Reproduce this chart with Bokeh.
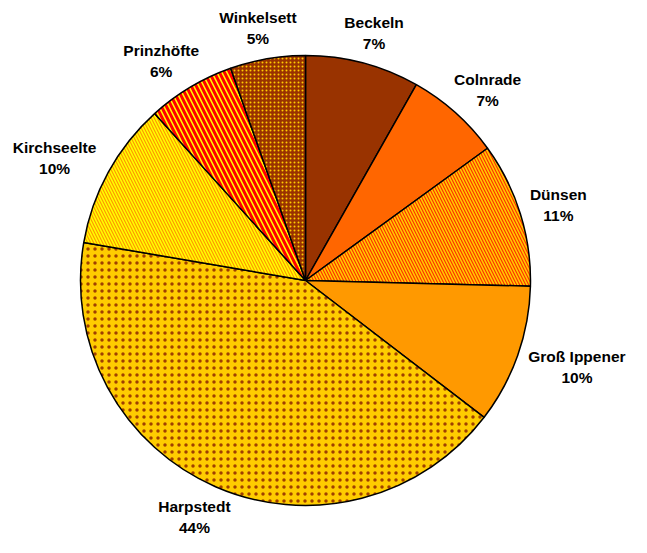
import math
from bokeh.plotting import figure
from bokeh.models import Range1d
from bokeh.embed import file_html
from bokeh.resources import INLINE
from bokeh.core.properties import value

# Data (clockwise from 12 o'clock)
names = ["Beckeln", "Colnrade", "Dünsen", "Groß Ippener", "Harpstedt", "Kirchseelte", "Prinzhöfte", "Winkelsett"]
shares = [8.2, 6.8, 10.4, 10.0, 42.3, 10.6, 6.3, 5.4]
pct_labels = ["7%", "7%", "11%", "10%", "44%", "10%", "6%", "5%"]

# Styles
fills = ["#993300", "#FF6600", "#FFCC00", "#FF9900", "#FFCC00", "#FFFF00", "#FFFF00", "#993300"]
hatches = [" ", " ", "\\", " ", ".", "\\", "\\", "."]
hatch_colors = ["#000000", "#000000", "#FF3300", "#000000", "#A04000", "#FF9900", "#FF0000", "#FFCC00"]
hatch_weights = [1, 1, 1.2, 1, 2.2, 1.2, 3.0, 1.6]
hatch_scales = [4, 4, 6, 4, 7, 6, 10, 4]

W, H = 631, 537
cx, cy, R = 305, 257, 225

p = figure(width=W, height=H, output_backend="svg", toolbar_location=None,
           x_range=Range1d(0, W), y_range=Range1d(0, H), min_border=0)
p.axis.visible = False
p.grid.visible = False
p.outline_line_color = None
p.background_fill_color = "white"

total = sum(shares)
cum = 0.0
for i, s in enumerate(shares):
    t1 = cum / total * 2 * math.pi
    cum += s
    t2 = cum / total * 2 * math.pi
    p.wedge(x=[cx], y=[cy], radius=R, radius_units="data",
            start_angle=math.pi / 2 - t2, end_angle=math.pi / 2 - t1,
            fill_color=fills[i], line_color="black", line_width=1.5,
            hatch_pattern=hatches[i], hatch_color=hatch_colors[i],
            hatch_weight=hatch_weights[i], hatch_scale=hatch_scales[i])
    tm = (t1 + t2) / 2
    ux, uy = math.sin(tm), math.cos(tm)
    hw = len(names[i]) * 8.6 / 2
    hh = 18
    pad = 14
    lx = cx + (R + pad) * ux + hw * ux
    ly = cy + (R + pad) * uy + hh * uy
    lx = min(max(lx, hw + 3), W - hw - 3)
    ly = min(max(ly, hh + 2), H - hh - 2)
    p.text(x=[lx], y=[ly + 1], text=[names[i]], text_align="center", text_baseline="bottom",
           text_font=value("Liberation Sans"), text_font_style="bold", text_font_size="15.5px",
           text_color="black")
    p.text(x=[lx], y=[ly - 3], text=[pct_labels[i]], text_align="center", text_baseline="top",
           text_font=value("Liberation Sans"), text_font_style="bold", text_font_size="15.5px",
           text_color="black")

open("out.html", "w").write(file_html(p, INLINE))
